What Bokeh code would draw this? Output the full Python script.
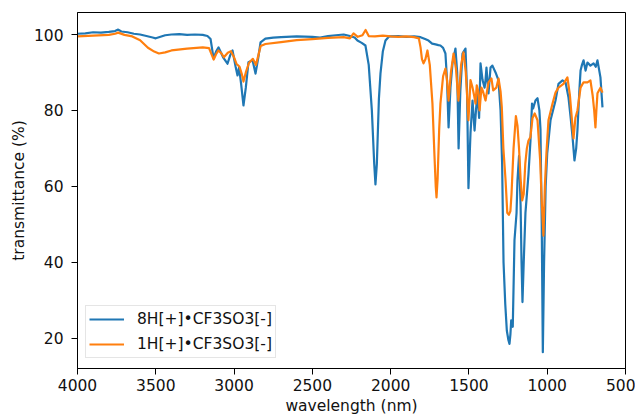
from bokeh.plotting import figure
from bokeh.models import Range1d, FixedTicker, Legend, LegendItem, ColumnDataSource
from bokeh.embed import file_html
from bokeh.resources import INLINE

# ---- data: 8H[+]•CF3SO3[-] ----
wn_8h = [4000, 3950, 3900, 3850, 3800, 3760, 3740, 3720, 3680, 3640, 3600, 3560, 3520, 3500,
         3470, 3440, 3400, 3350, 3300, 3250, 3200, 3170, 3150, 3131, 3115, 3099, 3070, 3042,
         3025, 3010, 2990, 2978, 2968, 2955, 2940, 2925, 2908, 2882, 2863, 2845, 2831, 2800,
         2750, 2700, 2600, 2500, 2450, 2400, 2350, 2300, 2260, 2230, 2212, 2185, 2161, 2140,
         2120, 2105, 2097, 2088, 2075, 2065, 2050, 2033, 2010, 1950, 1900, 1850, 1809, 1780,
         1758, 1735, 1713, 1695, 1682, 1665, 1650, 1640, 1630, 1618, 1605, 1586, 1575, 1566,
         1555, 1541, 1522, 1512, 1503, 1490, 1477, 1464, 1455, 1445, 1435, 1426, 1413, 1400,
         1394, 1388, 1375, 1362, 1350, 1330, 1311, 1298, 1288, 1279, 1268, 1258, 1248, 1241,
         1235, 1230, 1225, 1220, 1209, 1196, 1190, 1180, 1170, 1164, 1158, 1150, 1139, 1120,
         1107, 1097, 1090, 1075, 1062, 1050, 1043, 1035, 1028, 1020, 1010, 1000, 979, 947,
         928, 902, 883, 864, 850, 838, 826, 815, 807, 795, 787, 778, 768, 755, 743, 724, 704,
         690, 679, 660, 647]
tr_8h = [100.2, 100.3, 100.6, 100.5, 100.7, 100.9, 101.3, 100.8, 100.6, 100.2, 100.0, 99.6, 99.2, 99.0,
         99.4, 99.8, 100.0, 100.1, 99.9, 100.0, 99.9, 99.6, 98.8, 93.7, 95.5, 96.6, 94.0, 92.3,
         94.5, 95.8, 91.5, 89.2, 91.3, 87.0, 81.3, 86.0, 92.7, 93.2, 89.7, 94.0, 97.9, 98.9,
         99.2, 99.3, 99.5, 99.4, 99.2, 99.6, 99.8, 100.0, 99.6, 99.2, 98.4, 97.8, 97.1, 92.0,
         80.0, 66.0, 60.5, 66.0, 83.0, 89.7, 95.5, 98.4, 99.5, 99.6, 99.4, 99.5, 99.3, 98.8,
         98.4, 97.6, 97.4, 97.2, 97.1, 96.5, 95.0, 88.0, 75.5, 86.0, 92.4, 96.3, 90.0, 70.0,
         85.0, 95.0, 96.3, 85.0, 59.5, 74.0, 82.6, 74.7, 80.0, 84.5, 78.0, 92.4, 88.0, 86.0,
         88.0, 91.3, 84.5, 91.3, 91.8, 90.0, 87.9, 80.0, 66.0, 40.0, 29.0, 22.0, 19.5, 18.5,
         21.0, 24.7, 23.5, 23.0, 45.8, 52.9, 61.6, 68.0, 55.0, 40.0, 29.5, 40.0, 53.0, 63.0,
         72.0, 81.8, 80.5, 82.6, 83.2, 80.0, 75.0, 50.0, 16.3, 40.0, 60.0, 68.7, 77.4, 82.6,
         87.0, 87.9, 87.4, 83.4, 78.0, 72.9, 66.8, 70.0, 74.7, 85.0, 90.5, 92.0, 93.2, 90.5,
         92.6, 91.8, 92.4, 91.5, 93.2, 88.7, 80.8]

# ---- data: 1H[+]•CF3SO3[-] ----
wn_1h = [4000, 3900, 3800, 3760, 3740, 3700, 3650, 3600, 3550, 3510, 3480, 3440, 3400, 3300,
         3200, 3160, 3130, 3115, 3100, 3080, 3065, 3040, 3020, 3000, 2985, 2965, 2950, 2940,
         2925, 2905, 2880, 2860, 2845, 2830, 2800, 2700, 2600, 2500, 2400, 2300, 2260, 2237,
         2210, 2180, 2160, 2140, 2100, 2050, 2000, 1950, 1900, 1850, 1820, 1809, 1800, 1790,
         1778, 1765, 1750, 1733, 1720, 1712, 1707, 1700, 1690, 1682, 1665, 1650, 1640, 1630,
         1615, 1598, 1583, 1567, 1550, 1535, 1520, 1503, 1490, 1477, 1467, 1458, 1450, 1440,
         1432, 1420, 1410, 1394, 1375, 1356, 1345, 1325, 1311, 1298, 1290, 1280, 1266, 1255,
         1245, 1235, 1228, 1215, 1200, 1190, 1180, 1170, 1160, 1150, 1140, 1130, 1120, 1107,
         1094, 1080, 1062, 1045, 1035, 1024, 1015, 1005, 992, 966, 947, 928, 896, 871, 855,
         843, 832, 820, 807, 787, 768, 743, 724, 710, 700, 692, 686, 679, 660, 647]
tr_1h = [99.5, 99.7, 99.9, 100.2, 100.5, 99.9, 99.5, 98.5, 96.5, 95.5, 95.0, 95.3, 95.8, 96.3,
         96.6, 96.4, 93.4, 94.8, 95.8, 95.0, 94.0, 95.2, 95.6, 94.0, 92.3, 91.5, 89.5, 87.6,
         90.0, 92.5, 93.6, 92.0, 94.5, 97.0, 97.5, 98.0, 98.5, 98.8, 99.1, 99.3, 99.0, 100.3,
         99.4, 99.8, 101.2, 99.6, 99.5, 99.7, 99.5, 99.4, 99.5, 99.3, 99.0, 96.6, 93.5, 92.4,
         93.5, 95.8, 92.0, 81.8, 68.0, 60.0, 57.1, 62.0, 75.0, 81.8, 89.0, 91.0, 88.0, 82.6,
         90.0, 95.0, 91.0, 82.6, 92.0, 95.3, 90.0, 77.4, 88.0, 86.0, 84.0, 81.8, 86.6, 85.0,
         80.0, 86.0, 85.0, 82.6, 87.4, 88.4, 85.3, 86.0, 88.4, 85.0, 80.8, 70.0, 61.6, 53.0,
         52.5, 53.5, 58.0, 70.0, 78.5, 76.0, 70.0, 62.0, 56.3, 58.0, 66.0, 70.0, 72.0, 73.0,
         78.0, 79.2, 77.4, 66.8, 56.0, 47.0, 60.0, 68.7, 77.4, 81.8, 84.7, 86.0, 87.0, 88.7,
         84.0, 78.0, 72.6, 78.0, 80.0, 86.0, 87.4, 87.4, 87.9, 84.0, 80.0, 75.5, 80.0, 84.5,
         86.0, 84.7]

series_labels = ["8H[+]•CF3SO3[-]", "1H[+]•CF3SO3[-]"]
x_ticks = [4000, 3500, 3000, 2500, 2000, 1500, 1000, 500]
y_ticks = [20, 40, 60, 80, 100]

FONT = "DejaVu Sans"
FS = "15.5px"

p = figure(width=635, height=417, output_backend="svg", toolbar_location=None,
           x_range=Range1d(4000, 500), y_range=Range1d(12.0, 105.8),
           min_border_left=77, min_border_right=10, min_border_top=12, min_border_bottom=49)
p.grid.visible = False
p.outline_line_color = "black"
p.outline_line_width = 1
p.background_fill_color = "white"
p.border_fill_color = "white"

src8 = ColumnDataSource(dict(x=wn_8h, y=tr_8h))
src1 = ColumnDataSource(dict(x=wn_1h, y=tr_1h))
r8 = p.line("x", "y", source=src8, line_color="#1f77b4", line_width=2.2, line_join="round")
r1 = p.line("x", "y", source=src1, line_color="#ff7f0e", line_width=2.2, line_join="round")

for ax in (p.xaxis[0], p.yaxis[0]):
    ax.axis_line_color = "black"
    ax.major_tick_line_color = "black"
    ax.major_tick_out = 6
    ax.major_tick_in = 0
    ax.minor_tick_out = 0
    ax.minor_tick_in = 0
    ax.major_label_text_font = FONT
    ax.major_label_text_font_size = FS
    ax.major_label_text_color = "#111111"
    ax.axis_label_text_font = FONT
    ax.axis_label_text_font_size = FS
    ax.axis_label_text_font_style = "normal"
    ax.axis_label_text_color = "#111111"

p.xaxis[0].ticker = FixedTicker(ticks=x_ticks)
p.yaxis[0].ticker = FixedTicker(ticks=y_ticks)
p.xaxis[0].axis_label = "wavelength (nm)"
p.yaxis[0].axis_label = "transmittance (%)"
p.xaxis[0].major_label_standoff = 4
p.xaxis[0].axis_label_standoff = 3
p.yaxis[0].major_label_standoff = 8
p.yaxis[0].axis_label_standoff = 3

legend = Legend(items=[LegendItem(label=series_labels[0], renderers=[r8]),
                       LegendItem(label=series_labels[1], renderers=[r1])],
                location=(8, 10), margin=0, padding=3, spacing=5,
                glyph_width=35, glyph_height=20, label_height=20, label_standoff=13,
                label_text_font=FONT, label_text_font_size=FS, label_text_color="#111111",
                border_line_color="#cccccc", border_line_width=1,
                background_fill_color="white", background_fill_alpha=0.8)
p.add_layout(legend)

open("out.html", "w").write(file_html(p, INLINE))
